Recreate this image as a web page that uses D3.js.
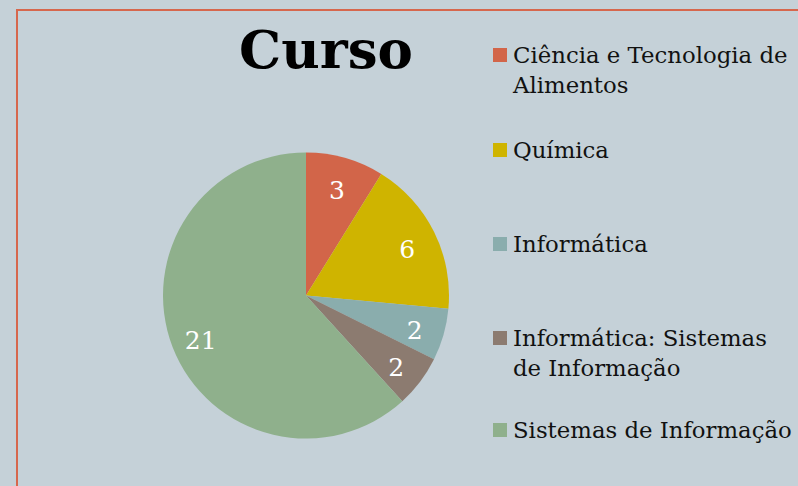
<!DOCTYPE html>
<html>
<head>
<meta charset="utf-8">
<script src="https://cdn.jsdelivr.net/npm/d3@7"></script>
<style>
  body { margin: 0; background: #c5d1d8; }
</style>
</head>
<body>
<script>
// variables:
var w = 798
var h = 486

// data
var categories = ['Ciência e Tecnologia de Alimentos', 'Química', 'Informática',
  'Informática: Sistemas de Informação', 'Sistemas de Informação']
var legendLines = [['Ciência e Tecnologia de', 'Alimentos'], ['Química'], ['Informática'],
  ['Informática: Sistemas', 'de Informação'], ['Sistemas de Informação']]
var values = [3, 6, 2, 2, 21]
var colors = ['#d26549', '#cfb400', '#8aadad', '#8c7b70', '#8fb08c']

var svg = d3.select('body')
  .append('svg')
  .attr('width', w)
  .attr('height', h)

svg.append('rect')
  .attr('width', w)
  .attr('height', h)
  .attr('fill', '#c5d1d8')

// frame (only top and left visible)
svg.append('path')
  .attr('d', 'M17,' + (h + 2) + 'V10H' + (w + 2))
  .attr('fill', 'none')
  .attr('stroke', '#d6674d')
  .attr('stroke-width', 2)

// title
svg.append('text')
  .text('Curso')
  .attr('x', 326)
  .attr('y', 68)
  .attr('text-anchor', 'middle')
  .attr('font-family', 'DejaVu Serif, serif')
  .attr('font-weight', 'bold')
  .attr('font-size', '53px')
  .attr('fill', '#000')

// pie
var cx = 306
var cy = 295.5
var radius = 143

var color = d3.scaleOrdinal().domain(categories).range(colors)

var pie = d3.pie().sort(null).value(function (d) { return d.value })
var arcs = pie(categories.map(function (c, i) { return { name: c, value: values[i] } }))

var arc = d3.arc().innerRadius(0).outerRadius(radius)
var labelArc = d3.arc().innerRadius(113).outerRadius(113)

var g = svg.append('g').attr('transform', 'translate(' + cx + ',' + cy + ')')

g.selectAll('path')
  .data(arcs)
  .enter()
  .append('path')
  .attr('d', arc)
  .attr('fill', function (d) { return color(d.data.name) })

g.selectAll('text')
  .data(arcs)
  .enter()
  .append('text')
  .text(function (d) { return d.data.value })
  .attr('transform', function (d) { return 'translate(' + labelArc.centroid(d) + ')' })
  .attr('text-anchor', 'middle')
  .attr('dy', '0.5em')
  .attr('font-family', 'DejaVu Serif, serif')
  .attr('font-size', '25px')
  .attr('fill', '#fff')

// legend
var legendY = [63, 158, 252, 346, 438]

var legend = svg.selectAll('.legend')
  .data(categories)
  .enter()
  .append('g')
  .attr('class', 'legend')
  .attr('transform', function (d, i) { return 'translate(493,' + legendY[i] + ')' })

legend.append('rect')
  .attr('x', 0)
  .attr('y', -15)
  .attr('width', 14)
  .attr('height', 14)
  .attr('fill', function (d) { return color(d) })

legend.append('text')
  .attr('x', 20)
  .attr('font-family', 'DejaVu Serif, serif')
  .attr('font-size', '22.8px')
  .attr('fill', '#111')
  .selectAll('tspan')
  .data(function (d, i) { return legendLines[i] })
  .enter()
  .append('tspan')
  .attr('x', 20)
  .attr('dy', function (d, j) { return j === 0 ? 0 : 30 })
  .text(function (d) { return d })
</script>
</body>
</html>
